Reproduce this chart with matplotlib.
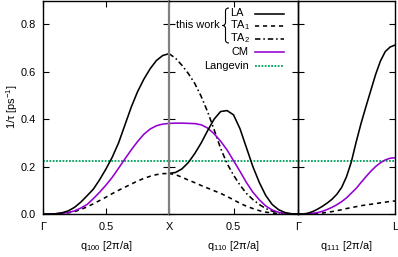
import matplotlib
matplotlib.use("Agg")
import matplotlib.pyplot as plt
from matplotlib.lines import Line2D
from matplotlib.path import Path
from matplotlib.patches import PathPatch

plt.rcParams['font.family'] = ['Liberation Sans', 'DejaVu Sans']
plt.rcParams['font.size'] = 7.9
plt.rcParams['mathtext.fontset'] = 'custom'
plt.rcParams['mathtext.rm'] = 'Liberation Sans'
plt.rcParams['mathtext.it'] = 'Liberation Sans:italic'
plt.rcParams['mathtext.bf'] = 'Liberation Sans:bold'

# ---------------- data ----------------
# Gamma -> X  (q100, 0..1)
q100 = [0.00, 0.05, 0.10, 0.15, 0.20, 0.25, 0.30, 0.35, 0.40, 0.45, 0.50,
        0.55, 0.60, 0.65, 0.70, 0.75, 0.80, 0.85, 0.90, 0.95, 1.00]
la_100 = [0.000, 0.000, 0.001, 0.005, 0.013, 0.028, 0.050, 0.077, 0.105, 0.145, 0.190,
          0.240, 0.300, 0.375, 0.450, 0.515, 0.568, 0.612, 0.647, 0.668, 0.676]
ta1_100 = [0.000, 0.000, 0.001, 0.002, 0.005, 0.010, 0.019, 0.030, 0.043, 0.057, 0.071,
           0.086, 0.100, 0.113, 0.126, 0.139, 0.150, 0.159, 0.166, 0.170, 0.171]
cm_100 = [0.000, 0.000, 0.001, 0.003, 0.006, 0.013, 0.025, 0.040, 0.065, 0.092, 0.122,
          0.155, 0.193, 0.232, 0.270, 0.305, 0.336, 0.358, 0.372, 0.379, 0.382]

# X -> Gamma  (q110 path, fraction from X)
s110 = [0.00, 0.05, 0.10, 0.15, 0.20, 0.25, 0.30, 0.35, 0.40, 0.45, 0.50,
        0.55, 0.60, 0.65, 0.70, 0.75, 0.80, 0.85, 0.90, 0.95, 1.00]
la_110 = [0.171, 0.175, 0.190, 0.217, 0.255, 0.300, 0.352, 0.400, 0.432, 0.436, 0.418,
          0.360, 0.280, 0.200, 0.133, 0.078, 0.040, 0.018, 0.006, 0.001, 0.000]
ta1_110 = [0.171, 0.166, 0.155, 0.143, 0.132, 0.120, 0.109, 0.098, 0.087, 0.074, 0.060,
           0.045, 0.033, 0.023, 0.014, 0.008, 0.004, 0.002, 0.001, 0.000, 0.000]
ta2_110 = [0.676, 0.657, 0.627, 0.592, 0.550, 0.495, 0.430, 0.355, 0.277, 0.213, 0.164,
           0.122, 0.087, 0.061, 0.040, 0.023, 0.012, 0.005, 0.002, 0.000, 0.000]
cm_110 = [0.382, 0.383, 0.383, 0.382, 0.381, 0.376, 0.362, 0.338, 0.307, 0.270, 0.225,
          0.180, 0.133, 0.092, 0.060, 0.034, 0.017, 0.007, 0.002, 0.000, 0.000]

# Gamma -> L  (q111 path, fraction)
t111 = [0.00, 0.05, 0.10, 0.15, 0.20, 0.25, 0.30, 0.35, 0.40, 0.45, 0.50,
        0.55, 0.60, 0.65, 0.70, 0.75, 0.80, 0.85, 0.90, 0.95, 1.00]
la_111 = [0.000, 0.000, 0.003, 0.010, 0.020, 0.032, 0.046, 0.062, 0.083, 0.112, 0.157,
          0.220, 0.304, 0.382, 0.452, 0.520, 0.588, 0.645, 0.685, 0.704, 0.712]
ta1_111 = [0.000, 0.000, 0.000, 0.001, 0.002, 0.004, 0.007, 0.010, 0.014, 0.018, 0.023,
           0.027, 0.031, 0.035, 0.038, 0.041, 0.044, 0.047, 0.050, 0.053, 0.055]
cm_111 = [0.000, 0.000, 0.001, 0.003, 0.006, 0.011, 0.019, 0.028, 0.039, 0.052, 0.068,
          0.088, 0.108, 0.133, 0.157, 0.180, 0.200, 0.216, 0.228, 0.235, 0.237]

langevin = 0.224

yticks = [0.0, 0.2, 0.4, 0.6, 0.8]
ytick_labels = ['0.0', '0.2', '0.4', '0.6', '0.8']

# ---------------- styles ----------------
LW = 1.15
sty_la = dict(color='black', lw=LW, ls='-')
sty_ta1 = dict(color='black', lw=LW, ls=(0, (2.6, 2.4)))
sty_ta2 = dict(color='black', lw=LW, ls=(0, (3.4, 1.8, 1.0, 1.8)))
sty_cm = dict(color='#9400D3', lw=LW, ls='-')
sty_lg = dict(color='#00A060', lw=1.3, ls=(0, (1, 0.8)))

W, H = 398, 257
fig = plt.figure(figsize=(W / 100, H / 100), dpi=100)

def axpos(x0, x1, top=0.5, bot=214):
    return [x0 / W, (H - bot) / H, (x1 - x0) / W, (bot - top) / H]

ax1 = fig.add_axes(axpos(43, 169))
ax2 = fig.add_axes(axpos(169, 298))
ax3 = fig.add_axes(axpos(298, 395))

for ax in (ax1, ax2, ax3):
    ax.set_facecolor('none')
    ax.set_ylim(0, 0.9)
    ax.set_xlim(0, 1)
    ax.set_yticks(yticks)
    ax.tick_params(axis='both', direction='in', length=4.5, width=0.8,
                   labelsize=7.9, left=True, right=True, top=True, bottom=True)
    ax.tick_params(axis='y', pad=5)
    ax.tick_params(axis='x', pad=6)
    for sp in ax.spines.values():
        sp.set_linewidth(1.0)
        sp.set_color('black')
    ax.axhline(langevin, **sty_lg)

ax1.set_yticklabels(ytick_labels)
ax2.set_yticklabels([])
ax3.set_yticklabels([])

ax1.spines['right'].set_visible(False)
ax2.spines['left'].set_color('#808080')
ax2.spines['left'].set_linewidth(1.6)

ax1.set_xticks([0, 0.5, 1.0])
ax1.set_xticklabels(['Γ', '0.5', 'X'])
ax2.set_xticks([0.5, 1.0])
ax2.set_xticklabels(['0.5', 'Γ'])
ax3.set_xticks([1.0])
ax3.set_xticklabels(['L'])
ax3.tick_params(axis='x', length=0, pad=6)

# panel 1
ax1.plot(q100, ta1_100, **sty_ta1)
ax1.plot(q100, cm_100, **sty_cm)
ax1.plot(q100, la_100, **sty_la)
# panel 2
ax2.plot(s110, ta1_110, **sty_ta1)
ax2.plot(s110, ta2_110, **sty_ta2)
ax2.plot(s110, cm_110, **sty_cm)
ax2.plot(s110, la_110, **sty_la)
# panel 3
ax3.plot(t111, ta1_111, **sty_ta1)
ax3.plot(t111, cm_111, **sty_cm)
ax3.plot(t111, la_111, **sty_la)

ax1.set_xlabel('q$_{100}$ [2π/a]', labelpad=5)
ax2.set_xlabel('q$_{110}$ [2π/a]', labelpad=5)
ax3.set_xlabel('q$_{111}$ [2π/a]', labelpad=5)

fig.text(12 / W, 1 - 107 / H, '1/τ [ps$^{-1}$]', rotation=90, ha='center', va='center')

# ---------------- legend ----------------
def fx(x):
    return x / W

def fy(y):
    return 1 - y / H

labels_left = [('LA', 13.5, sty_la), ('TA$_1$', 25.5, sty_ta1), ('TA$_2$', 38.5, sty_ta2)]
labels_right = [('CM', 52, sty_cm), ('Langevin', 65.7, sty_lg)]
for txt, y, st in labels_left:
    fig.text(fx(230), fy(y), txt, ha='left', va='center')
    fig.add_artist(Line2D([fx(255), fx(284)], [fy(y), fy(y)], transform=fig.transFigure, **st))
for txt, y, st in labels_right:
    fig.text(fx(249), fy(y), txt, ha='right', va='center')
    fig.add_artist(Line2D([fx(255), fx(284)], [fy(y), fy(y)], transform=fig.transFigure, **st))
fig.text(fx(219.5), fy(25.5), 'this work', ha='right', va='center')

xt, xm, xe = 222.5, 225.5, 229
yt, yb, ymid, r = 8, 43, 25.5, 3
verts_px = [(xe, yt), (xm, yt), (xm, yt + r), (xm, ymid - r), (xm, ymid), (xt, ymid),
            (xm, ymid), (xm, ymid + r), (xm, yb - r), (xm, yb), (xe, yb)]
codes = [Path.MOVETO, Path.CURVE3, Path.CURVE3, Path.LINETO, Path.CURVE3, Path.CURVE3,
         Path.CURVE3, Path.CURVE3, Path.LINETO, Path.CURVE3, Path.CURVE3]
verts = [(fx(x), fy(y)) for x, y in verts_px]
fig.add_artist(PathPatch(Path(verts, codes), fill=False, lw=0.8, color='black',
                         transform=fig.transFigure))

fig.savefig('out.png', dpi=100, facecolor='white')
